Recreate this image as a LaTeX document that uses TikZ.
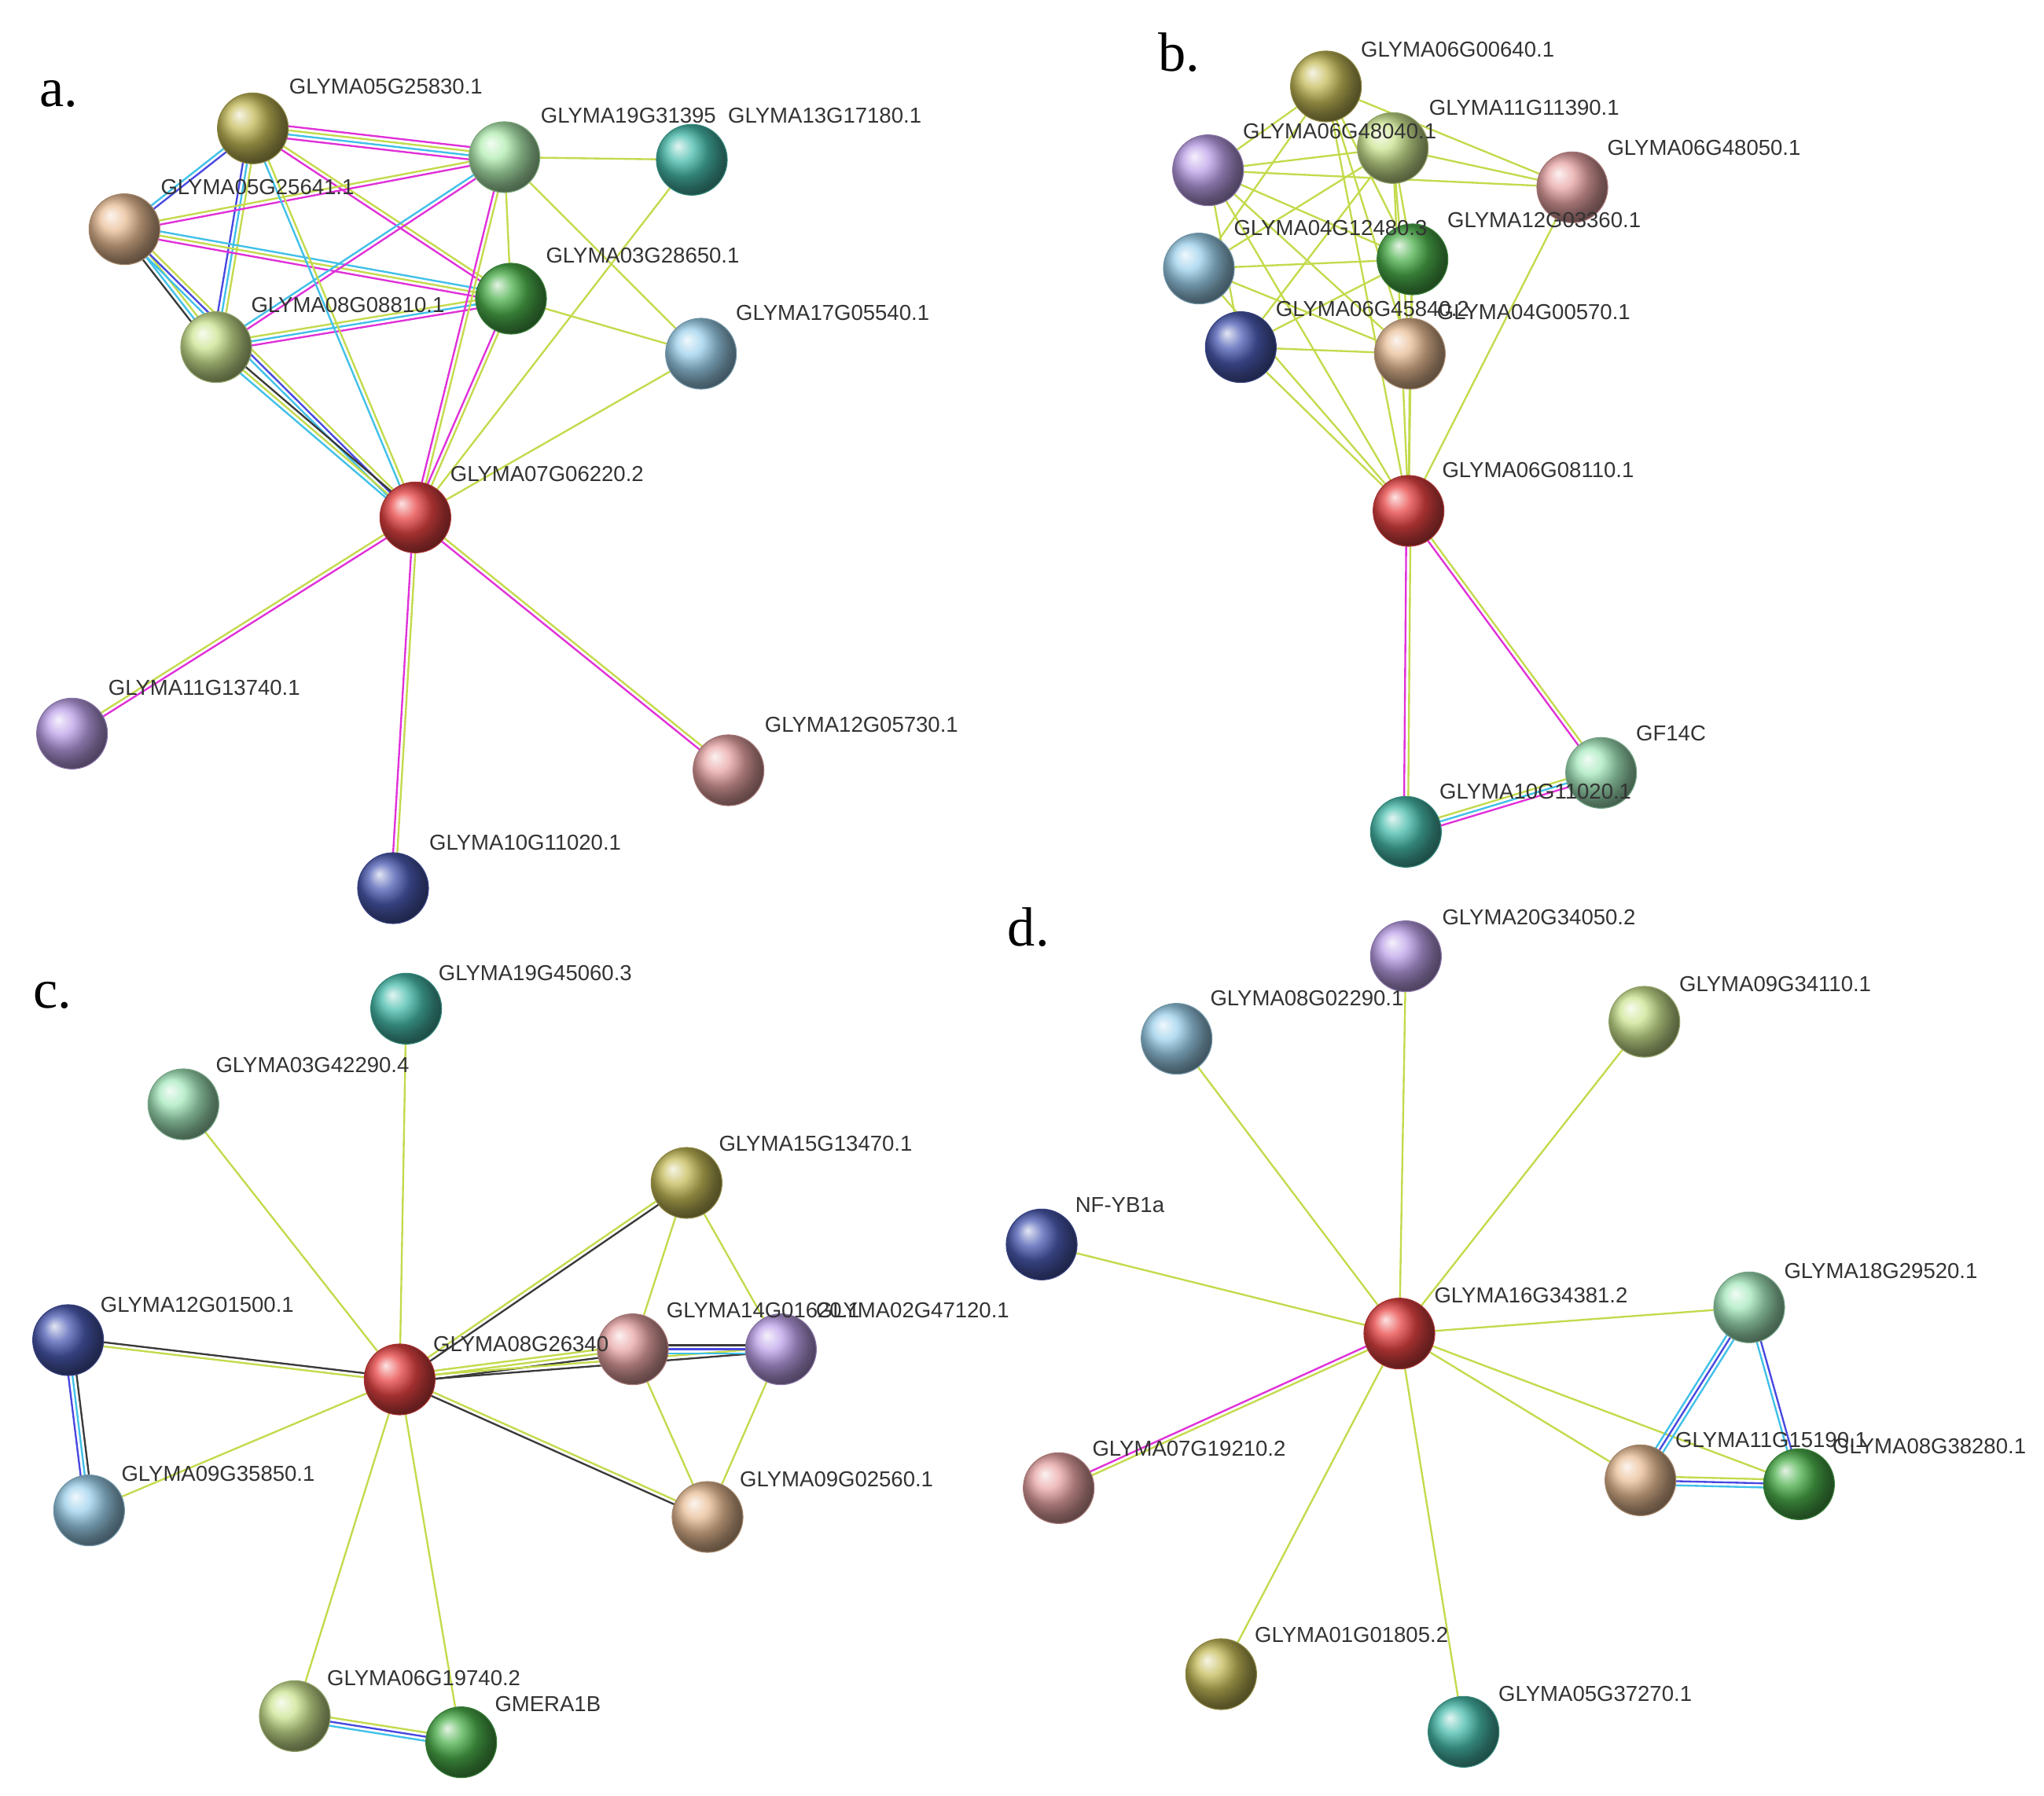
\documentclass[tikz,border=0pt]{standalone}
\usepackage{fontspec}
\setmainfont{Liberation Serif}
\newfontfamily\lsans{Liberation Sans}
\usetikzlibrary{calc,shadings}
\definecolor{yel}{HTML}{C4DA4C}
\definecolor{mag}{HTML}{E030D8}
\definecolor{cya}{HTML}{40C0E8}
\definecolor{blu}{HTML}{4848E0}
\definecolor{blk}{HTML}{3A3A3A}
\definecolor{olv}{HTML}{C4BA58}
\definecolor{lgr}{HTML}{B0ECB0}
\definecolor{tea}{HTML}{48BCAC}
\definecolor{tan}{HTML}{E8BC94}
\definecolor{grn}{HTML}{4CB04C}
\definecolor{lim}{HTML}{CCE490}
\definecolor{lbl}{HTML}{9CD0EC}
\definecolor{red}{HTML}{E84444}
\definecolor{pur}{HTML}{BCA0E8}
\definecolor{pnk}{HTML}{E8A4A4}
\definecolor{nav}{HTML}{4C5CB4}
\definecolor{mnt}{HTML}{A4E8BC}
\tikzset{
 ball/.style={circle,minimum size=5.4mm,inner sep=0pt,ball color=#1,draw=#1!70!black,line width=0.2pt},
 lab/.style={anchor=west,inner sep=0pt,font=\lsans\fontsize{4.7}{5}\selectfont,text=black!80},
 let/.style={anchor=center,inner sep=0pt,font=\fontsize{12}{12}\selectfont},
 every path/.style={line width=0.4pt}
}
\newcommand\Eg[3]{\def\nn{0}\foreach \c in {#3}{\xdef\nn{\the\numexpr\nn+1\relax}}%
\foreach \c [count=\i] in {#3}{\pgfmathsetmacro\off{(\i-(\nn+1)/2)*0.9}\draw[\c] ($(#1)!\off pt!90:(#2)$) -- ($(#2)!\off pt!-90:(#1)$);}}
\begin{document}
\begin{tikzpicture}[x=0.1mm,y=-0.1mm]
\useasboundingbox[fill=white] (0,0) rectangle (1560,1371);
\node[let] (la) at (45,72) {a.};
\node[let] (lb) at (900,40) {b.};
\node[let] (lc) at (40,760) {c.};
\node[let] (ld) at (785,708) {d.};
% ---- panel a
\coordinate (A1) at (193,98); \coordinate (A2) at (385,120); \coordinate (A3) at (528,122);
\coordinate (A4) at (95,175); \coordinate (A5) at (390,228); \coordinate (A6) at (165,265);
\coordinate (A7) at (535,270); \coordinate (A8) at (317,395); \coordinate (A9) at (55,560);
\coordinate (A10) at (556,588); \coordinate (A11) at (300,678);
\Eg{A1}{A2}{mag,cya,yel,mag}
\Eg{A1}{A4}{cya,blu}
\Eg{A1}{A6}{blu,cya,yel}
\Eg{A1}{A5}{mag,yel}
\Eg{A4}{A2}{mag,yel}
\Eg{A4}{A5}{mag,yel,cya}
\Eg{A4}{A6}{blk,cya,yel}
\Eg{A4}{A8}{cya,blu,yel}
\Eg{A6}{A2}{mag,cya}
\Eg{A6}{A5}{mag,cya,yel}
\Eg{A6}{A8}{cya,yel,blk}
\Eg{A1}{A8}{cya,yel}
\Eg{A2}{A8}{mag,yel}
\Eg{A5}{A8}{mag,yel}
\Eg{A2}{A3}{yel}
\Eg{A2}{A7}{yel}
\Eg{A3}{A8}{yel}
\Eg{A2}{A5}{yel}
\Eg{A5}{A7}{yel}
\Eg{A7}{A8}{yel}
\Eg{A8}{A9}{yel,mag}
\Eg{A8}{A10}{mag,yel}
\Eg{A8}{A11}{mag,yel}
\node[ball=olv] (a1) at (A1) {}; \node[ball=lgr] (a2) at (A2) {}; \node[ball=tea] (a3) at (A3) {};
\node[ball=tan] (a4) at (A4) {}; \node[ball=grn] (a5) at (A5) {}; \node[ball=lim] (a6) at (A6) {};
\node[ball=lbl] (a7) at (A7) {}; \node[ball=red] (a8) at (A8) {}; \node[ball=pur] (a9) at (A9) {};
\node[ball=pnk] (a10) at (A10) {}; \node[ball=nav] (a11) at (A11) {};
\node[lab] (ta1) at (220,66) {GLYMA05G25830.1};
\node[lab] (ta2) at (412,88) {GLYMA19G31395};
\node[lab] (ta3) at (555,88) {GLYMA13G17180.1};
\node[lab] (ta4) at (122,143) {GLYMA05G25641.1};
\node[lab] (ta5) at (416,195) {GLYMA03G28650.1};
\node[lab] (ta6) at (191,233) {GLYMA08G08810.1};
\node[lab] (ta7) at (561,239) {GLYMA17G05540.1};
\node[lab] (ta8) at (343,362) {GLYMA07G06220.2};
\node[lab] (ta9) at (82,525) {GLYMA11G13740.1};
\node[lab] (ta10) at (583,553) {GLYMA12G05730.1};
\node[lab] (ta11) at (327,643) {GLYMA10G11020.1};
% ---- panel b
\coordinate (B1) at (1012,66); \coordinate (B2) at (1063,113); \coordinate (B3) at (922,130);
\coordinate (B4) at (1200,143); \coordinate (B5) at (915,205); \coordinate (B6) at (1078,198);
\coordinate (B7) at (947,265); \coordinate (B8) at (1076,270); \coordinate (B9) at (1075,390);
\coordinate (B10) at (1222,590); \coordinate (B11) at (1073,635);
\foreach \p/\q in {B9/B1,B9/B2,B9/B3,B9/B5,B9/B6,B9/B7,B9/B8,B9/B4,B3/B2,B3/B4,B3/B6,B3/B8,B5/B2,B5/B6,B5/B8,B7/B2,B7/B6,B7/B8,B1/B6,B1/B8,B2/B4,B2/B8,B1/B4,B6/B8,B3/B1,B5/B1,B3/B7,B2/B6}{\Eg{\p}{\q}{yel}}
\Eg{B9}{B10}{mag,yel}
\Eg{B9}{B11}{mag,yel}
\Eg{B11}{B10}{mag,cya,yel}
\node[ball=olv] (b1) at (B1) {}; \node[ball=lim] (b2) at (B2) {}; \node[ball=pur] (b3) at (B3) {};
\node[ball=pnk] (b4) at (B4) {}; \node[ball=lbl] (b5) at (B5) {}; \node[ball=grn] (b6) at (B6) {};
\node[ball=nav] (b7) at (B7) {}; \node[ball=tan] (b8) at (B8) {}; \node[ball=red] (b9) at (B9) {};
\node[ball=mnt] (b10) at (B10) {}; \node[ball=tea] (b11) at (B11) {};
\node[lab] (tb1) at (1038,38) {GLYMA06G00640.1};
\node[lab] (tb2) at (1090,82) {GLYMA11G11390.1};
\node[lab] (tb4) at (1226,113) {GLYMA06G48050.1};
\node[lab] (tb6) at (1104,168) {GLYMA12G03360.1};
\node[lab] (tb8) at (1096,238) {GLYMA04G00570.1};
\node[lab] (tb3) at (948,100) {GLYMA06G48040.1};
\node[lab] (tb5) at (941,174) {GLYMA04G12480.3};
\node[lab] (tb7) at (973,236) {GLYMA06G45840.2};
\node[lab] (tb9) at (1100,359) {GLYMA06G08110.1};
\node[lab] (tb10) at (1248,560) {GF14C};
\node[lab] (tb11) at (1098,604) {GLYMA10G11020.1};
% ---- panel c
\coordinate (C1) at (310,770); \coordinate (C2) at (140,843); \coordinate (C3) at (524,903);
\coordinate (C4) at (52,1023); \coordinate (C5) at (305,1053); \coordinate (C6) at (483,1030);
\coordinate (C7) at (596,1030); \coordinate (C8) at (68,1153); \coordinate (C9) at (540,1158);
\coordinate (C10) at (225,1310); \coordinate (C11) at (352,1330);
\Eg{C5}{C1}{yel}
\Eg{C5}{C2}{yel}
\Eg{C5}{C3}{blk,yel}
\Eg{C5}{C4}{blk,yel}
\Eg{C5}{C6}{blk,yel,yel}
\Eg{C5}{C7}{blk,yel}
\Eg{C5}{C8}{yel}
\Eg{C5}{C9}{blk,yel}
\Eg{C5}{C10}{yel}
\Eg{C5}{C11}{yel}
\Eg{C4}{C8}{blu,cya,blk}
\Eg{C3}{C6}{yel}
\Eg{C3}{C7}{yel}
\Eg{C6}{C7}{cya,blu,blk}
\Eg{C6}{C9}{yel}
\Eg{C7}{C9}{yel}
\Eg{C10}{C11}{cya,blu,yel}
\node[ball=tea] (c1) at (C1) {}; \node[ball=mnt] (c2) at (C2) {}; \node[ball=olv] (c3) at (C3) {};
\node[ball=nav] (c4) at (C4) {}; \node[ball=red] (c5) at (C5) {}; \node[ball=pnk] (c6) at (C6) {};
\node[ball=pur] (c7) at (C7) {}; \node[ball=lbl] (c8) at (C8) {}; \node[ball=tan] (c9) at (C9) {};
\node[ball=lim] (c10) at (C10) {}; \node[ball=grn] (c11) at (C11) {};
\node[lab] (tc1) at (334,743) {GLYMA19G45060.3};
\node[lab] (tc2) at (164,813) {GLYMA03G42290.4};
\node[lab] (tc3) at (548,873) {GLYMA15G13470.1};
\node[lab] (tc4) at (76,996) {GLYMA12G01500.1};
\node[lab] (tc5) at (330,1026) {GLYMA08G26340};
\node[lab] (tc7) at (622,1000) {GLYMA02G47120.1};
\node[lab] (tc6) at (508,1000) {GLYMA14G01620.1};
\node[lab] (tc8) at (92,1125) {GLYMA09G35850.1};
\node[lab] (tc9) at (564,1129) {GLYMA09G02560.1};
\node[lab] (tc10) at (249,1281) {GLYMA06G19740.2};
\node[lab] (tc11) at (377,1301) {GMERA1B};
% ---- panel d
\coordinate (D1) at (1073,730); \coordinate (D2) at (898,793); \coordinate (D3) at (1255,780);
\coordinate (D4) at (795,950); \coordinate (D5) at (1068,1018); \coordinate (D6) at (1335,998);
\coordinate (D7) at (808,1136); \coordinate (D8) at (1252,1130); \coordinate (D9) at (1373,1133);
\coordinate (D10) at (932,1278); \coordinate (D11) at (1117,1322);
\foreach \q in {D1,D2,D3,D4,D6,D8,D9,D10,D11}{\Eg{D5}{\q}{yel}}
\Eg{D5}{D7}{mag,yel}
\Eg{D6}{D8}{cya,blu,cya}
\Eg{D6}{D9}{cya,blu}
\Eg{D8}{D9}{cya,blu,yel}
\node[ball=pur] (d1) at (D1) {}; \node[ball=lbl] (d2) at (D2) {}; \node[ball=lim] (d3) at (D3) {};
\node[ball=nav] (d4) at (D4) {}; \node[ball=red] (d5) at (D5) {}; \node[ball=mnt] (d6) at (D6) {};
\node[ball=pnk] (d7) at (D7) {}; \node[ball=tan] (d8) at (D8) {}; \node[ball=grn] (d9) at (D9) {};
\node[ball=olv] (d10) at (D10) {}; \node[ball=tea] (d11) at (D11) {};
\node[lab] (td1) at (1100,700) {GLYMA20G34050.2};
\node[lab] (td2) at (923,762) {GLYMA08G02290.1};
\node[lab] (td3) at (1281,751) {GLYMA09G34110.1};
\node[lab] (td4) at (820,920) {NF-YB1a};
\node[lab] (td5) at (1094,989) {GLYMA16G34381.2};
\node[lab] (td6) at (1361,970) {GLYMA18G29520.1};
\node[lab] (td7) at (833,1106) {GLYMA07G19210.2};
\node[lab] (td8) at (1278,1099) {GLYMA11G15190.1};
\node[lab] (td9) at (1398,1104) {GLYMA08G38280.1};
\node[lab] (td10) at (957,1248) {GLYMA01G01805.2};
\node[lab] (td11) at (1143,1293) {GLYMA05G37270.1};
\end{tikzpicture}
\end{document}
